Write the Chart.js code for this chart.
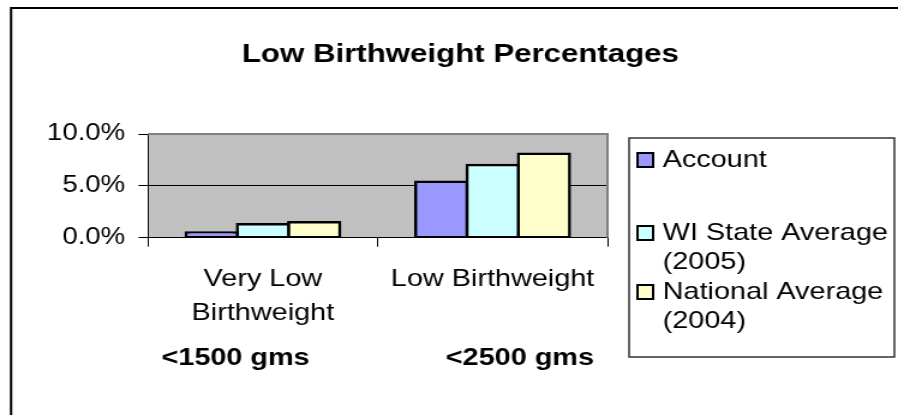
<!DOCTYPE html>
<html>
<head>
<meta charset="utf-8">
<script src="https://cdn.jsdelivr.net/npm/chart.js@4"></script>
<style>
  html, body { margin: 0; padding: 0; background: #fff; }
</style>
</head>
<body>
<!-- the reference picture is stretched sideways, so draw narrow and stretch with css -->
<canvas id="lbwChart" width="748" height="415" style="width:898px;height:415px"></canvas>
<script>
var chartTitle = 'Low Birthweight Percentages';
var categories = [['Very Low', 'Birthweight'], 'Low Birthweight'];
var weightLimits = ['<1500 gms', '<2500 gms'];
var seriesNames = [['Account'], ['WI State Average', '(2005)'], ['National Average', '(2004)']];
var seriesColors = ['#9999ff', '#ccffff', '#ffffcc'];
var account = [0.5, 5.4];
var wiState = [1.3, 7.0];
var national = [1.5, 8.1];
var yTicks = [0, 5, 10];

var FONT = '"Liberation Sans", Arial, sans-serif';

// grey plot area, frame, title and the boxed legend, excel style
var excelLook = {
  id: 'excelLook',
  beforeDraw: function (chart) {
    var a = chart.chartArea, ctx = chart.ctx;
    ctx.save();
    ctx.fillStyle = '#c0c0c0';
    ctx.fillRect(a.left, a.top, a.right - a.left, a.bottom - a.top);
    ctx.restore();
  },
  beforeDatasetsDraw: function (chart) {
    var a = chart.chartArea, ctx = chart.ctx;
    ctx.save();
    ctx.strokeStyle = '#808080';
    ctx.lineWidth = 2;
    ctx.beginPath();
    ctx.moveTo(a.left, a.top);
    ctx.lineTo(a.right, a.top);
    ctx.lineTo(a.right, a.bottom);
    ctx.stroke();
    ctx.restore();
  },
  afterDraw: function (chart) {
    var ctx = chart.ctx;
    ctx.save();
    // outer frame (only left and top show in the crop)
    ctx.strokeStyle = '#000';
    ctx.lineWidth = 2;
    ctx.beginPath();
    ctx.moveTo(9.2, chart.height);
    ctx.lineTo(9.2, 8);
    ctx.lineTo(chart.width, 8);
    ctx.stroke();

    ctx.fillStyle = '#000';
    ctx.font = 'bold 26px ' + FONT;
    ctx.textAlign = 'center';
    ctx.textBaseline = 'middle';
    ctx.fillText(chartTitle, 383.5, 55);

    // legend
    ctx.strokeStyle = '#333';
    ctx.lineWidth = 1.5;
    ctx.strokeRect(524, 138, 221, 219);
    ctx.font = '24px ' + FONT;
    ctx.textAlign = 'left';
    var rows = [160, 233, 292];
    chart.data.datasets.forEach(function (ds, i) {
      var y = rows[i];
      ctx.fillStyle = ds.backgroundColor;
      ctx.fillRect(531, y - 7, 13, 14);
      ctx.strokeStyle = '#000';
      ctx.lineWidth = 2;
      ctx.strokeRect(531, y - 7, 13, 14);
      ctx.fillStyle = '#000';
      seriesNames[i].forEach(function (line, j) {
        ctx.fillText(line, 552, y + j * 29);
      });
    });
    ctx.restore();
  }
};

var ctx = document.getElementById('lbwChart').getContext('2d');
var lbwChart = new Chart(ctx, {
  type: 'bar',
  data: {
    labels: categories,
    datasets: [account, wiState, national].map(function (vals, i) {
      return {
        label: seriesNames[i].join(' '),
        data: vals,
        backgroundColor: seriesColors[i],
        borderColor: '#000',
        borderWidth: 2.5,
        borderSkipped: false,
        inflateAmount: 1.25,
        categoryPercentage: 0.67,
        barPercentage: 1.0
      };
    })
  },
  options: {
    responsive: false,
    devicePixelRatio: 1,
    animation: false,
    layout: { padding: { top: 134, right: 242, left: 0, bottom: 0 } },
    plugins: {
      legend: { display: false },
      title: { display: false },
      tooltip: { enabled: false }
    },
    scales: {
      x: {
        afterFit: function (scale) { scale.height = 177.3; },
        grid: { display: true, drawOnChartArea: false, drawTicks: true, tickLength: 9, color: '#000' },
        border: { display: true, color: '#000', width: 1 },
        ticks: {
          color: '#000',
          padding: 16,
          maxRotation: 0,
          autoSkip: false,
          font: { family: FONT, size: 24, lineHeight: 1.4 }
        },
        title: {
          display: true,
          text: weightLimits.join('                 '),
          color: '#000',
          font: { family: FONT, size: 24, weight: 'bold', lineHeight: 1.2 },
          padding: { top: 0, bottom: 42 }
        }
      },
      y: {
        min: 0,
        max: 10,
        afterFit: function (scale) { scale.width = 123.3; },
        afterBuildTicks: function (scale) {
          scale.ticks = yTicks.map(function (v) { return { value: v }; });
        },
        grid: {
          color: function (c) { return c.tick && c.tick.value === 10 ? '#808080' : '#000'; },
          tickColor: '#000',
          tickLength: 8,
          lineWidth: 1
        },
        border: { display: true, color: '#000', width: 1 },
        ticks: {
          color: '#000',
          padding: 11,
          font: { family: FONT, size: 23 },
          callback: function (v) { return v.toFixed(1) + '%'; }
        }
      }
    }
  },
  plugins: [excelLook]
});
</script>
</body>
</html>
